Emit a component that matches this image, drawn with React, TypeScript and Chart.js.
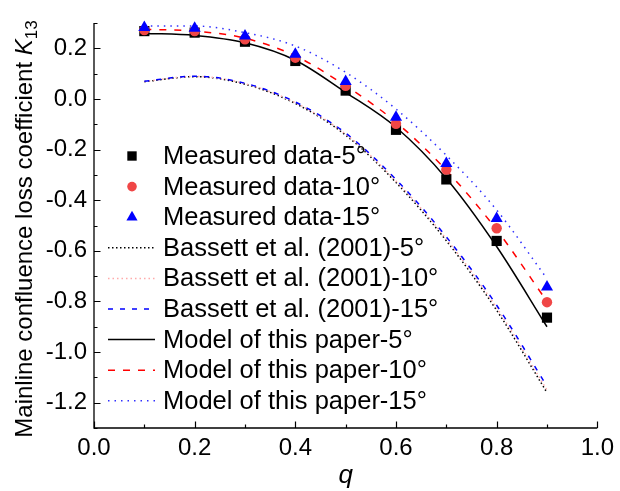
import React, { useEffect, useRef } from 'react';
import { Chart, registerables } from 'chart.js';

Chart.register(...registerables);

// ---------- data ----------
const qValues = [0.1, 0.2, 0.3, 0.4, 0.5, 0.6, 0.7, 0.8, 0.9];

const measured5 = [0.268, 0.262, 0.226, 0.15, 0.033, -0.122, -0.318, -0.561, -0.864];
const measured10 = [0.272, 0.268, 0.236, 0.163, 0.052, -0.098, -0.279, -0.511, -0.803];
const measured15 = [0.282, 0.279, 0.249, 0.177, 0.069, -0.072, -0.255, -0.472, -0.743];

const bassett5 = [0.068, 0.088, 0.058, -0.018, -0.143, -0.33, -0.56, -0.835, -1.16];
const bassett10 = [0.069, 0.089, 0.06, -0.015, -0.139, -0.324, -0.553, -0.825, -1.15];
const bassett15 = [0.07, 0.09, 0.062, -0.012, -0.135, -0.318, -0.545, -0.815, -1.135];

const model5 = [0.259, 0.251, 0.222, 0.153, 0.026, -0.112, -0.314, -0.583, -0.9];
const model10 = [0.275, 0.268, 0.24, 0.17, 0.052, -0.092, -0.282, -0.517, -0.8];
const model15 = [0.288, 0.288, 0.262, 0.209, 0.105, -0.04, -0.223, -0.439, -0.71];

const seriesLabels = [
  'Measured data-5°',
  'Measured data-10°',
  'Measured data-15°',
  'Bassett et al. (2001)-5°',
  'Bassett et al. (2001)-10°',
  'Bassett et al. (2001)-15°',
  'Model of this paper-5°',
  'Model of this paper-10°',
  'Model of this paper-15°',
];

const xTitle = 'q';
const yTitleMain = 'Mainline confluence loss coefficient ';
const yTitleSymbol = 'K';
const yTitleSub = '13';

const FONT = '"Liberation Sans", Arial, sans-serif';

const toPoints = (vals: number[]) => vals.map((v, i) => ({ x: qValues[i], y: v }));

// ---------- plugins ----------
const axesPlugin = {
  id: 'customAxes',
  afterDraw(chart: any) {
    const { ctx, chartArea, scales } = chart;
    const xs = scales.x;
    const ys = scales.y;
    ctx.save();
    ctx.strokeStyle = '#000';
    ctx.lineWidth = 1.3;
    ctx.setLineDash([]);
    ctx.beginPath();
    ctx.moveTo(chartArea.left, chartArea.top);
    ctx.lineTo(chartArea.left, chartArea.bottom);
    ctx.lineTo(chartArea.right, chartArea.bottom);
    ctx.stroke();
    ctx.lineWidth = 1.2;
    ctx.beginPath();
    xs.ticks.forEach((t: any) => {
      const px = Math.round(xs.getPixelForValue(t.value)) + 0.5;
      const major = Math.round(t.value * 10) % 2 === 0;
      const len = major ? 6.5 : 3.5;
      ctx.moveTo(px, chartArea.bottom);
      ctx.lineTo(px, chartArea.bottom - len);
    });
    ys.ticks.forEach((t: any) => {
      const py = Math.round(ys.getPixelForValue(t.value)) + 0.5;
      const major = Math.round(t.value * 10) % 2 === 0;
      const len = major ? 6.5 : 3.5;
      ctx.moveTo(chartArea.left, py);
      ctx.lineTo(chartArea.left + len, py);
    });
    ctx.stroke();

    // axis titles
    ctx.fillStyle = '#000';
    ctx.textBaseline = 'alphabetic';
    // x title
    ctx.font = `italic 26px ${FONT}`;
    ctx.textAlign = 'center';
    ctx.fillText(xTitle, (chartArea.left + chartArea.right) / 2, 483);
    // y title (rotated)
    const mainFont = `24px ${FONT}`;
    const symFont = `italic 24px ${FONT}`;
    const subFont = `17px ${FONT}`;
    ctx.font = mainFont;
    const w1 = ctx.measureText(yTitleMain).width;
    ctx.font = symFont;
    const w2 = ctx.measureText(yTitleSymbol).width;
    ctx.font = subFont;
    const w3 = ctx.measureText(yTitleSub).width;
    const total = w1 + w2 + w3;
    ctx.translate(32, 229);
    ctx.rotate(-Math.PI / 2);
    ctx.textAlign = 'left';
    let cx = -total / 2;
    ctx.font = mainFont;
    ctx.fillText(yTitleMain, cx, 0);
    cx += w1;
    ctx.font = symFont;
    ctx.fillText(yTitleSymbol, cx, 0);
    cx += w2;
    ctx.font = subFont;
    ctx.fillText(yTitleSub, cx, 5);
    ctx.restore();
  },
};

function drawMarker(ctx: CanvasRenderingContext2D, style: string, x: number, y: number, r: number, color: string) {
  ctx.fillStyle = color;
  ctx.beginPath();
  if (style === 'rect') {
    const s = Math.SQRT1_2 * r;
    ctx.rect(x - s, y - s, 2 * s, 2 * s);
  } else if (style === 'circle') {
    ctx.arc(x, y, r, 0, Math.PI * 2);
  } else if (style === 'triangle') {
    let rad = 0;
    ctx.moveTo(x + Math.sin(rad) * r, y - Math.cos(rad) * r);
    rad += (2 * Math.PI) / 3;
    ctx.lineTo(x + Math.sin(rad) * r, y - Math.cos(rad) * r);
    rad += (2 * Math.PI) / 3;
    ctx.lineTo(x + Math.sin(rad) * r, y - Math.cos(rad) * r);
    ctx.closePath();
  }
  ctx.fill();
}

const legendPlugin = {
  id: 'customLegend',
  afterDraw(chart: any) {
    const { ctx } = chart;
    const datasets = chart.data.datasets;
    ctx.save();
    ctx.font = `25.5px ${FONT}`;
    ctx.textBaseline = 'middle';
    ctx.textAlign = 'left';
    datasets.forEach((ds: any, i: number) => {
      const y = 156 + i * 30.6;
      if (ds.showLine === false) {
        drawMarker(ctx, ds.pointStyle, 132, y, ds.pointRadius * 0.92, ds.pointBackgroundColor);
      } else {
        ctx.strokeStyle = ds.borderColor;
        ctx.lineWidth = ds.borderWidth;
        ctx.setLineDash(ds.borderDash || []);
        ctx.beginPath();
        ctx.moveTo(108, y);
        ctx.lineTo(155, y);
        ctx.stroke();
        ctx.setLineDash([]);
      }
      ctx.fillStyle = '#000';
      ctx.fillText(ds.label, 163, y + 1);
    });
    ctx.restore();
  },
};

// ---------- component ----------
export default function App() {
  const canvasRef = useRef<HTMLCanvasElement | null>(null);

  useEffect(() => {
    if (!canvasRef.current) return;
    const markerDs = (label: string, vals: number[], style: string, color: string, r: number, order: number) => ({
      label,
      data: toPoints(vals),
      showLine: false,
      pointStyle: style,
      pointRadius: r,
      pointBackgroundColor: color,
      pointBorderColor: color,
      pointBorderWidth: 0,
      borderColor: color,
      backgroundColor: color,
      order,
      clip: false,
    });
    const lineDs = (label: string, vals: number[], color: string, dash: number[], width: number, order: number) => ({
      label,
      data: toPoints(vals),
      showLine: true,
      borderColor: color,
      backgroundColor: color,
      borderWidth: width,
      borderDash: dash,
      pointRadius: 0,
      cubicInterpolationMode: 'monotone',
      fill: false,
      order,
      clip: false,
    });

    const chart = new Chart(canvasRef.current, {
      type: 'line',
      data: {
        datasets: [
          markerDs(seriesLabels[0], measured5, 'rect', '#000000', 7.2, 3),
          markerDs(seriesLabels[1], measured10, 'circle', '#f04646', 5.2, 2),
          markerDs(seriesLabels[2], measured15, 'triangle', '#0000ff', 7, 1),
          lineDs(seriesLabels[3], bassett5, '#000000', [1.5, 2.5], 1.5, 9),
          lineDs(seriesLabels[4], bassett10, 'rgb(255,170,170)', [1.5, 3], 1.5, 8),
          lineDs(seriesLabels[5], bassett15, '#0000ff', [5, 7], 1.5, 7),
          lineDs(seriesLabels[6], model5, '#000000', [], 1.5, 6),
          lineDs(seriesLabels[7], model10, '#ff0000', [7, 8], 1.5, 5),
          lineDs(seriesLabels[8], model15, '#3030ff', [1.5, 5], 1.5, 4),
        ] as any,
      },
      options: {
        animation: false,
        responsive: false,
        maintainAspectRatio: false,
        events: [],
        layout: { padding: { top: 23, right: 19, left: 0, bottom: 0 } },
        plugins: {
          legend: { display: false },
          tooltip: { enabled: false },
          title: { display: false },
        },
        scales: {
          x: {
            type: 'linear',
            min: 0,
            max: 1,
            afterFit: (s: any) => {
              s.height = 63;
            },
            grid: { display: false, drawTicks: false },
            border: { display: false },
            ticks: {
              stepSize: 0.1,
              autoSkip: false,
              maxRotation: 0,
              padding: 6,
              color: '#000',
              font: { size: 24, family: FONT },
              callback: (v: any) => (Math.round(Number(v) * 10) % 2 === 0 ? Number(v).toFixed(1) : ''),
            },
          },
          y: {
            type: 'linear',
            min: -1.3,
            max: 0.3,
            afterFit: (s: any) => {
              s.width = 94;
            },
            grid: { display: false, drawTicks: false },
            border: { display: false },
            ticks: {
              stepSize: 0.1,
              autoSkip: false,
              padding: 7,
              color: '#000',
              font: { size: 24, family: FONT },
              callback: (v: any) => (Math.round(Number(v) * 10) % 2 === 0 ? Number(v).toFixed(1) : ''),
            },
          },
        },
      } as any,
      plugins: [axesPlugin, legendPlugin],
    });
    return () => chart.destroy();
  }, []);

  return (
    <div style={{ position: 'fixed', left: 0, top: 0, width: 620, height: 491, background: '#fff' }}>
      <canvas ref={canvasRef} width={620} height={491} style={{ width: 620, height: 491, display: 'block' }} />
    </div>
  );
}
